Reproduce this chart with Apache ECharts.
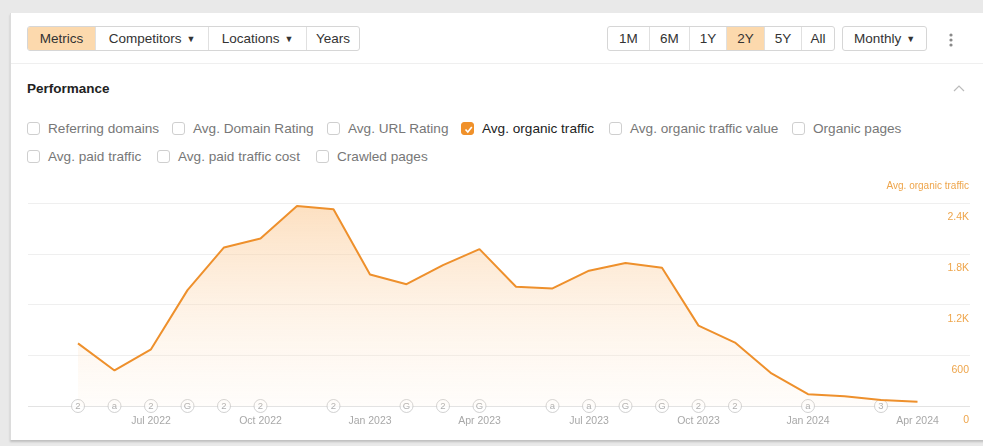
<!DOCTYPE html>
<html>
<head>
<meta charset="utf-8">
<script src="https://cdn.jsdelivr.net/npm/echarts@6/dist/echarts.min.js"></script>
<style>
  html, body { margin: 0; padding: 0; }
  body { width: 983px; height: 446px; background: #e9e9e9; position: relative; overflow: hidden;
         font-family: "Liberation Sans", Arial, Helvetica, sans-serif; color: #333; }
  .card { position: absolute; left: 10px; top: 13px; width: 990px; height: 427px; background: #fff;
          border-left: 1px solid #dcdcdc; box-shadow: 0 2px 2px rgba(0,0,0,0.18); }
  .btns { position: absolute; top: 26px; height: 25px; display: flex; border: 1px solid #d6d6d6;
          border-radius: 3px; box-sizing: border-box; overflow: hidden; background: #fff; }
  .btns div { height: 23px; line-height: 23px; font-size: 13.5px; text-align: center; color: #333;
              border-left: 1px solid #e0e0e0; box-sizing: border-box; }
  .btns div:first-child { border-left: none; }
  .btns .on { background: #fcd9ad; }
  .caret { font-size: 9px; margin-left: 5px; position: relative; top: -1px; }
  .divider { position: absolute; left: 11px; right: 0; top: 63px; height: 1px; background: #efefef; }
  .perf { position: absolute; left: 27px; top: 81px; font-size: 13.5px; font-weight: bold; color: #222; }
  .item { position: absolute; display: flex; align-items: center; font-size: 13.6px; color: #777; white-space: nowrap; height: 16px; }
  .box { width: 13px; height: 13px; border: 1px solid #cfcfcf; border-radius: 3px; box-sizing: border-box;
         margin-right: 8px; background: #fff; flex: none; }
  .box.checked { background: #f0912a; border-color: #f0912a; position: relative; }
  .box.checked svg { position: absolute; left: 1px; top: 1px; }
  .item.sel { color: #222; }
  #chart { position: absolute; left: 0; top: 170px; width: 983px; height: 276px; }
</style>
</head>
<body>
<div class="card"></div>

<div class="btns" style="left:27px;">
  <div class="on" style="width:67px;">Metrics</div>
  <div style="width:113px;">Competitors<span class="caret">&#9660;</span></div>
  <div style="width:98px;">Locations<span class="caret">&#9660;</span></div>
  <div style="width:53px;">Years</div>
</div>

<div class="btns" style="left:607px;">
  <div style="width:41px;">1M</div>
  <div style="width:40px;">6M</div>
  <div style="width:37px;">1Y</div>
  <div class="on" style="width:38px;">2Y</div>
  <div style="width:37px;">5Y</div>
  <div style="width:33px;">All</div>
</div>

<div class="btns" style="left:842px;">
  <div style="width:83px;">Monthly<span class="caret">&#9660;</span></div>
</div>

<svg style="position:absolute;left:948px;top:32px" width="6" height="16">
  <circle cx="3" cy="3" r="1.6" fill="#8a8a8a"/>
  <circle cx="3" cy="8" r="1.6" fill="#8a8a8a"/>
  <circle cx="3" cy="13" r="1.6" fill="#8a8a8a"/>
</svg>

<div class="divider"></div>
<div class="perf">Performance</div>
<svg style="position:absolute;left:953px;top:84px" width="12" height="8">
  <polyline points="1,7 6,2 11,7" fill="none" stroke="#bbb" stroke-width="1.2"/>
</svg>

<div class="item" style="left:27px;top:120px;"><span class="box"></span>Referring domains</div>
<div class="item" style="left:172px;top:120px;"><span class="box"></span>Avg. Domain Rating</div>
<div class="item" style="left:327px;top:120px;"><span class="box"></span>Avg. URL Rating</div>
<div class="item sel" style="left:461px;top:120px;"><span class="box checked"><svg width="11" height="11"><polyline points="2.5,5.5 4.8,8 8.8,3" fill="none" stroke="#fff" stroke-width="1.6"/></svg></span>Avg. organic traffic</div>
<div class="item" style="left:609px;top:120px;"><span class="box"></span>Avg. organic traffic value</div>
<div class="item" style="left:792px;top:120px;"><span class="box"></span>Organic pages</div>
<div class="item" style="left:27px;top:148px;"><span class="box"></span>Avg. paid traffic</div>
<div class="item" style="left:157px;top:148px;"><span class="box"></span>Avg. paid traffic cost</div>
<div class="item" style="left:316px;top:148px;"><span class="box"></span>Crawled pages</div>

<div id="chart"></div>

<script>
// Monthly average organic traffic, May 2022 – Apr 2024
const months = [
  'May 2022', 'Jun 2022', 'Jul 2022', 'Aug 2022', 'Sep 2022', 'Oct 2022',
  'Nov 2022', 'Dec 2022', 'Jan 2023', 'Feb 2023', 'Mar 2023', 'Apr 2023',
  'May 2023', 'Jun 2023', 'Jul 2023', 'Aug 2023', 'Sep 2023', 'Oct 2023',
  'Nov 2023', 'Dec 2023', 'Jan 2024', 'Feb 2024', 'Mar 2024', 'Apr 2024'
];
const organicTraffic = [
  740, 420, 670, 1370, 1875, 1980, 2365, 2325, 1555, 1440, 1665, 1855,
  1410, 1390, 1600, 1690, 1635, 950, 750, 385, 140, 115, 70, 50
];

// Update markers shown along the baseline (month index and badge text)
const noteMonths = [0, 1, 2, 3, 4, 5, 7, 9, 10, 11, 13, 14, 15, 16, 17, 18, 20, 22];
const noteLabels = ['2', 'a', '2', 'G', '2', '2', '2', 'G', '2', 'G', 'a', 'a', 'G', 'G', '2', '2', 'a', '3'];

// Y axis scale and tick labels
const yMin = 0;
const yMax = 2400;
const yStep = 600;
const yTickLabels = ['0', '600', '1.2K', '1.8K', '2.4K'];

const orange = '#ee902c';
const labelOrange = '#eea54b';

const chart = echarts.init(document.getElementById('chart'), null, { renderer: 'canvas' });

chart.setOption({
  animation: false,
  graphic: [{
    type: 'text',
    right: 14,
    top: 11,
    style: {
      text: 'Avg. organic traffic',
      fill: labelOrange,
      font: '10px "Liberation Sans", Arial, sans-serif'
    }
  }],
  grid: [
    { left: 28, right: 13, top: 33, bottom: 40 },
    { left: 78, right: 65.5, top: 33, bottom: 40 }
  ],
  xAxis: [
    { gridIndex: 0, type: 'value', min: 0, max: 1, show: false },
    {
      gridIndex: 1,
      type: 'category',
      data: months,
      boundaryGap: false,
      axisLine: { show: false },
      axisTick: { show: false },
      axisLabel: {
        interval: (i) => i % 3 === 2,
        margin: 10,
        color: '#a8a8a8',
        fontSize: 10.5,
        fontFamily: '"Liberation Sans", Arial, sans-serif'
      },
      splitLine: { show: false }
    }
  ],
  yAxis: [
    {
      gridIndex: 0,
      type: 'value',
      position: 'right',
      min: yMin,
      max: yMax,
      interval: yStep,
      axisLine: { show: false },
      axisTick: { show: false },
      splitLine: { lineStyle: { color: ['#e3e3e3', '#efefef', '#efefef', '#efefef', '#efefef'], width: 1 } },
      axisLabel: {
        inside: true,
        margin: 1,
        verticalAlign: 'top',
        padding: [9, 0, 0, 0],
        color: labelOrange,
        fontSize: 10.5,
        fontFamily: '"Liberation Sans", Arial, sans-serif',
        formatter: (v) => yTickLabels[Math.round((v - yMin) / yStep)]
      }
    },
    { gridIndex: 1, type: 'value', min: yMin, max: yMax, show: false }
  ],
  series: [
    {
      type: 'scatter',
      xAxisIndex: 1,
      yAxisIndex: 1,
      clip: false,
      z: 2,
      symbol: 'circle',
      symbolSize: 13,
      itemStyle: { color: '#fff', borderColor: '#c6c6c6', borderWidth: 1 },
      label: {
        show: true,
        position: 'inside',
        formatter: (p) => p.data[2],
        color: '#9a9a9a',
        fontSize: 9.5,
        fontFamily: '"Liberation Sans", Arial, sans-serif'
      },
      data: noteMonths.map((m, k) => [m, 0, noteLabels[k]])
    },
    {
      type: 'line',
      xAxisIndex: 1,
      yAxisIndex: 1,
      z: 3,
      data: organicTraffic,
      symbol: 'none',
      lineStyle: { color: orange, width: 2 },
      areaStyle: {
        color: new echarts.graphic.LinearGradient(0, 0, 0, 1, [
          { offset: 0, color: 'rgba(251, 200, 145, 0.8)' },
          { offset: 1, color: 'rgba(253, 232, 210, 0.15)' }
        ])
      }
    }
  ]
});
</script>
</body>
</html>
